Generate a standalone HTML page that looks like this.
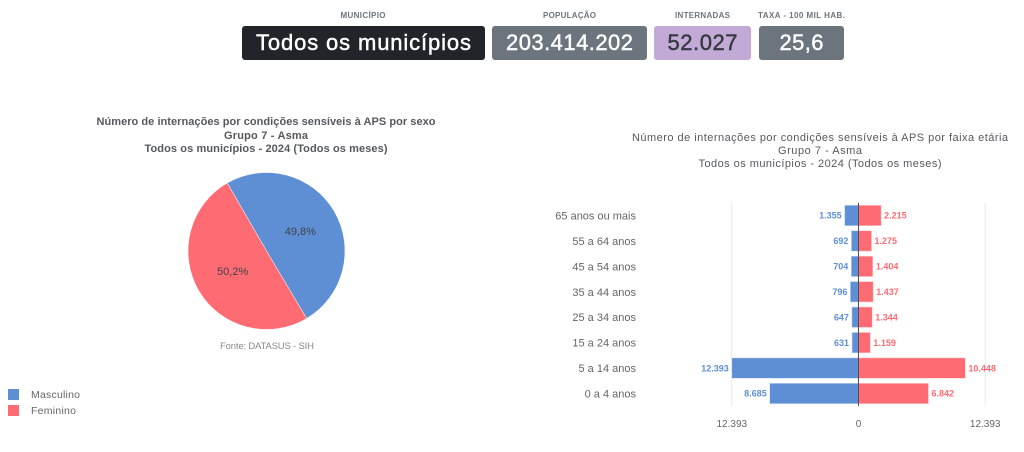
<!DOCTYPE html>
<html lang="pt-BR">
<head>
<meta charset="utf-8">
<title>Internações por condições sensíveis à APS - Asma</title>
<style>
html,body{margin:0;padding:0;background:#fff;width:1024px;height:452px;overflow:hidden}
svg{display:block;font-family:"Liberation Sans",sans-serif}
</style>
</head>
<body>
<svg id="root" xmlns="http://www.w3.org/2000/svg" width="1024" height="452" viewBox="0 0 1024 452">
  <g>
    <text x="363" y="18" text-anchor="middle" font-size="8" font-weight="700" fill="#6c757d" textLength="45" lengthAdjust="spacing">MUNICÍPIO</text>
    <rect x="242" y="26" width="243" height="34" rx="3" fill="#212529"/>
    <text x="363.5" y="50" text-anchor="middle" font-size="22" fill="#fff" stroke="#fff" stroke-width="0.45" textLength="215" lengthAdjust="spacing">Todos os municípios</text>
  </g>
  <g>
    <text x="569.5" y="18" text-anchor="middle" font-size="8" font-weight="700" fill="#6c757d" textLength="53" lengthAdjust="spacing">POPULAÇÃO</text>
    <rect x="492" y="26" width="155" height="34" rx="3" fill="#6c757d"/>
    <text x="569.5" y="50" text-anchor="middle" font-size="22" fill="#fff" stroke="#fff" stroke-width="0.45" textLength="127" lengthAdjust="spacing">203.414.202</text>
  </g>
  <g>
    <text x="702.5" y="18" text-anchor="middle" font-size="8" font-weight="700" fill="#6c757d" textLength="55" lengthAdjust="spacing">INTERNADAS</text>
    <rect x="654" y="26" width="97" height="34" rx="3" fill="#c3a9d6"/>
    <text x="702.5" y="50" text-anchor="middle" font-size="22" fill="#343a40" stroke="#343a40" stroke-width="0.45" textLength="70" lengthAdjust="spacing">52.027</text>
  </g>
  <g>
    <text x="801.5" y="18" text-anchor="middle" font-size="8" font-weight="700" fill="#6c757d" textLength="87" lengthAdjust="spacing">TAXA - 100 MIL HAB.</text>
    <rect x="759" y="26" width="85" height="34" rx="3" fill="#6c757d"/>
    <text x="801.5" y="50" text-anchor="middle" font-size="22" fill="#fff" stroke="#fff" stroke-width="0.45" textLength="44" lengthAdjust="spacing">25,6</text>
  </g>

  <g font-size="11" font-weight="700" fill="#55595e" text-anchor="middle">
    <text x="266" y="125" textLength="339" lengthAdjust="spacing">Número de internações por condições sensíveis à APS por sexo</text>
    <text x="266" y="139" textLength="84" lengthAdjust="spacing">Grupo 7 - Asma</text>
    <text x="266" y="152" textLength="243" lengthAdjust="spacing">Todos os municípios - 2024 (Todos os meses)</text>
  </g>
  <g id="pie"></g>
  <text x="267" y="349" text-anchor="middle" font-size="9.5" fill="#8a8a8a" textLength="94" lengthAdjust="spacing">Fonte: DATASUS - SIH</text>

  <g>
    <g>
      <rect x="8" y="389" width="11" height="11" fill="#5e8fd5"/>
      <text x="31" y="398" font-size="10.5" fill="#666" textLength="49" lengthAdjust="spacing">Masculino</text>
    </g>
    <g>
      <rect x="8" y="405" width="11" height="11" fill="#ff6b72"/>
      <text x="31" y="414" font-size="10.5" fill="#666" textLength="45" lengthAdjust="spacing">Feminino</text>
    </g>
  </g>

  <g font-size="11" fill="#55595e" text-anchor="middle">
    <text x="820" y="141" textLength="376" lengthAdjust="spacing">Número de internações por condições sensíveis à APS por faixa etária</text>
    <text x="820" y="154" textLength="84" lengthAdjust="spacing">Grupo 7 - Asma</text>
    <text x="820" y="167" textLength="243" lengthAdjust="spacing">Todos os municípios - 2024 (Todos os meses)</text>
  </g>
  <g id="bars"></g>
</svg>
<script>
const categories = ["65 anos ou mais","55 a 64 anos","45 a 54 anos","35 a 44 anos","25 a 34 anos","15 a 24 anos","5 a 14 anos","0 a 4 anos"];
const masculino = [1355,692,704,796,647,631,12393,8685];
const feminino = [2215,1275,1404,1437,1344,1159,10448,6842];
const sexLabels = ["Masculino","Feminino"];
const axisTicks = [-12393,0,12393];

const NS = "http://www.w3.org/2000/svg";
const BLUE = "#5e8fd5", RED = "#ff6b72";

function make(tag, attrs, parent, content) {
  const el = document.createElementNS(NS, tag);
  for (const k in attrs) el.setAttribute(k, attrs[k]);
  if (content !== undefined) el.textContent = content;
  parent.appendChild(el);
  return el;
}
function fmt(v) {
  return String(Math.abs(v)).replace(/\B(?=(\d{3})+$)/g, ".");
}
function sum(a) {
  return a.reduce((s, v) => s + v, 0);
}

/* Pie */
const pieRoot = document.getElementById("pie");
const cx = 266.5, cy = 251, r = 78.5;
const totals = [sum(masculino), sum(feminino)];
const grand = totals[0] + totals[1];
const pieColors = [BLUE, RED];
let angle = -30;
totals.forEach((t, i) => {
  const sweep = t / grand * 360;
  const a0 = angle * Math.PI / 180;
  const a1 = (angle + sweep) * Math.PI / 180;
  const large = sweep > 180 ? 1 : 0;
  const d = "M" + cx + " " + cy +
    "L" + (cx + r * Math.sin(a0)) + " " + (cy - r * Math.cos(a0)) +
    "A" + r + " " + r + " 0 " + large + " 1 " + (cx + r * Math.sin(a1)) + " " + (cy - r * Math.cos(a1)) + "Z";
  const slice = make("path", {d: d, fill: pieColors[i], stroke: "#fff", "stroke-width": 0.5}, pieRoot);
  
  
  const mid = (angle + sweep / 2) * Math.PI / 180;
  const pct = (t / grand * 100).toFixed(1).replace(".", ",") + "%";
  const label = make("text", {
    x: cx + r * 0.5 * Math.sin(mid),
    y: cy - r * 0.5 * Math.cos(mid) + 4,
    "text-anchor": "middle",
    "font-size": 11,
    fill: "#3f444a"
  }, pieRoot, pct);
  
  
  angle += sweep;
});

/* Pyramid */
const barRoot = document.getElementById("bars");
const zeroX = 858.5, halfWidth = 126.7, axisMax = 12393;
const rowTop = 215.5, rowStep = 25.43, barH = 20.4;
const plotTop = 203, plotBottom = 406;
function xScale(v) {
  return zeroX + v / axisMax * halfWidth;
}
function yScale(i) {
  return rowTop + i * rowStep;
}
axisTicks.forEach((t) => {
  if (t !== 0) {
    const grid = make("line", {x1: xScale(t), x2: xScale(t), y1: plotTop, y2: plotBottom, stroke: "#e6e6e6", "stroke-width": 1}, barRoot);
    
    
  }
  const tick = make("text", {x: xScale(t), y: 427, "text-anchor": "middle", "font-size": 10, fill: "#666"}, barRoot, fmt(t));
  
  
});
categories.forEach((c, i) => {
  const y = yScale(i);
  const cat = make("text", {x: 636, y: y + 4, "text-anchor": "end", "font-size": 11, fill: "#666"}, barRoot, c);
  
  

  const left = xScale(-masculino[i]);
  const barM = make("rect", {x: left, y: y - barH / 2, width: zeroX - left, height: barH, fill: BLUE, stroke: "#c9daf2", "stroke-width": 0.6}, barRoot);
  
  

  const right = xScale(feminino[i]);
  const barF = make("rect", {x: zeroX, y: y - barH / 2, width: right - zeroX, height: barH, fill: RED, stroke: "#ffd0d3", "stroke-width": 0.6}, barRoot);
  
  

  const lm = make("text", {x: left - 3, y: y + 3.2, "text-anchor": "end", "font-size": 9, "font-weight": 700, fill: BLUE}, barRoot, fmt(masculino[i]));
  
  

  const lf = make("text", {x: right + 3, y: y + 3.2, "font-size": 9, "font-weight": 700, fill: RED}, barRoot, fmt(feminino[i]));
  
  
});
const zeroLine = make("line", {x1: zeroX, x2: zeroX, y1: plotTop, y2: plotBottom, stroke: "#4a4f54", "stroke-width": 1}, barRoot);


</script>
</body>
</html>
